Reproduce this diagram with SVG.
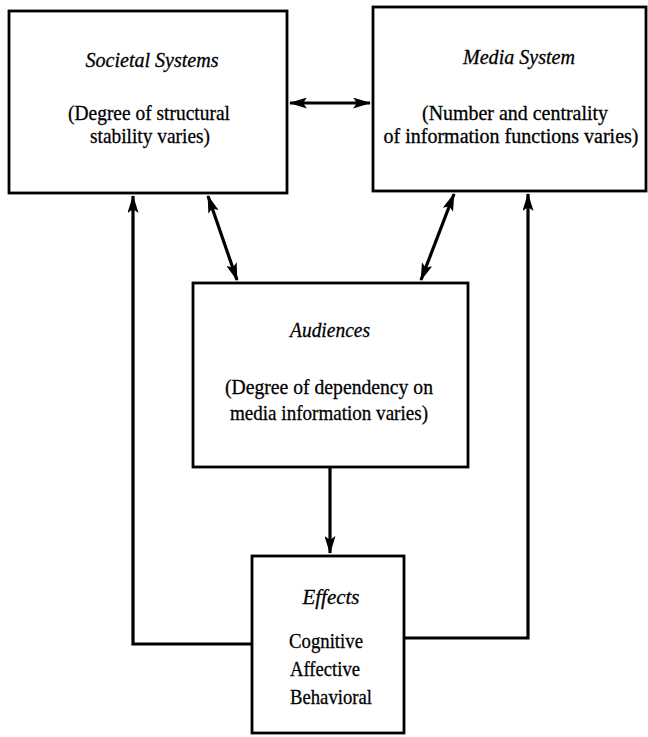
<svg xmlns="http://www.w3.org/2000/svg" width="648" height="737" viewBox="0 0 648 737">
  <style>
    .box { fill: #fff; stroke: #000; stroke-width: 2.8; }
    .link { fill: none; stroke: #000; stroke-width: 3.2; }
    text { font-family: "Liberation Serif", "Times New Roman", serif; font-size: 22px; fill: #000; stroke: #000; stroke-width: 0.3; }
    .title { font-style: italic; }
    .mid { text-anchor: middle; }
    .long { font-size: 20px; }
  </style>
  <defs>
    <marker id="head" viewBox="0 0 18 11" refX="17" refY="5.5" markerWidth="18" markerHeight="11" markerUnits="userSpaceOnUse" orient="auto-start-reverse">
      <path d="M0,0 L18,5.5 L0,11 L4,5.5 z" fill="#000"/>
    </marker>
  </defs>
  <rect width="648" height="737" fill="#fff"/>

  <g id="connectors">
    <line class="link" x1="290" y1="103" x2="370" y2="103" marker-start="url(#head)" marker-end="url(#head)"/>
    <line class="link" x1="208" y1="196" x2="237" y2="280" marker-start="url(#head)" marker-end="url(#head)"/>
    <line class="link" x1="454" y1="194" x2="421" y2="280" marker-start="url(#head)" marker-end="url(#head)"/>
    <line class="link" x1="330" y1="467" x2="330" y2="553" marker-end="url(#head)"/>
    <path class="link" d="M252,644 H133 V196" marker-end="url(#head)"/>
    <path class="link" d="M404,638 H528 V194" marker-end="url(#head)"/>
  </g>

  <g id="societal-systems">
    <rect class="box" x="9" y="11" width="278" height="182"/>
    <text class="title mid" x="152" y="67" textLength="133" lengthAdjust="spacingAndGlyphs">Societal Systems</text>
    <text class="mid" x="149" y="120" textLength="162" lengthAdjust="spacingAndGlyphs">(Degree of structural</text>
    <text class="mid" x="150" y="143" textLength="120" lengthAdjust="spacingAndGlyphs">stability varies)</text>
  </g>

  <g id="media-system">
    <rect class="box" x="373" y="7" width="273" height="184"/>
    <text class="title mid" x="519" y="64" textLength="112" lengthAdjust="spacingAndGlyphs">Media System</text>
    <text class="mid" x="515" y="120" textLength="186" lengthAdjust="spacingAndGlyphs">(Number and centrality</text>
    <text class="mid long" x="511" y="143">of information functions varies)</text>
  </g>

  <g id="audiences">
    <rect class="box" x="193" y="283" width="275" height="184"/>
    <text class="title mid" x="330" y="337" textLength="80" lengthAdjust="spacingAndGlyphs">Audiences</text>
    <text class="mid" x="329" y="394" textLength="208" lengthAdjust="spacingAndGlyphs">(Degree of dependency on</text>
    <text class="mid" x="329" y="420" textLength="198" lengthAdjust="spacingAndGlyphs">media information varies)</text>
  </g>

  <g id="effects">
    <rect class="box" x="252" y="556" width="152" height="177"/>
    <text class="title mid" x="331" y="604" textLength="57" lengthAdjust="spacingAndGlyphs">Effects</text>
    <text x="289" y="648" textLength="74" lengthAdjust="spacingAndGlyphs">Cognitive</text>
    <text x="290" y="676" textLength="70" lengthAdjust="spacingAndGlyphs">Affective</text>
    <text x="290" y="704" textLength="82" lengthAdjust="spacingAndGlyphs">Behavioral</text>
  </g>
</svg>
